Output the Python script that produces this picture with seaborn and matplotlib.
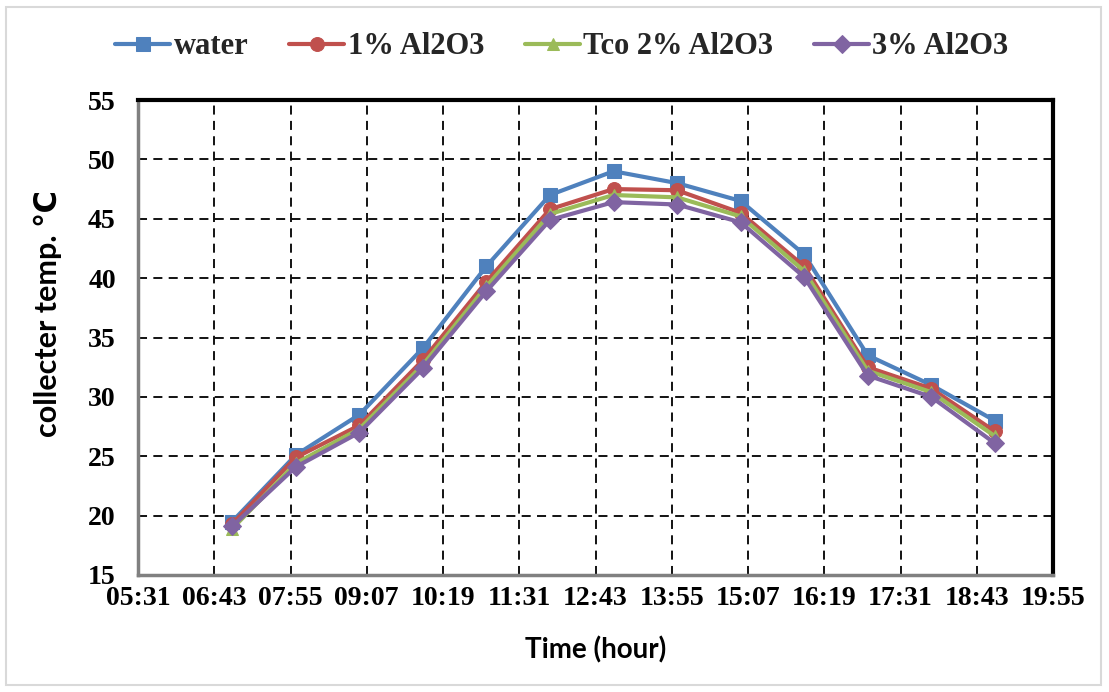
import matplotlib
matplotlib.use("Agg")
import matplotlib.pyplot as plt
import seaborn as sns
import pandas as pd
from matplotlib.ticker import FixedLocator
from matplotlib.patches import Rectangle

sns.set_theme(style="white")

# ---- data ----
times = ["07:00", "08:00", "09:00", "10:00", "11:00", "12:00", "13:00",
         "14:00", "15:00", "16:00", "17:00", "18:00", "19:00"]
water = [19.5, 25.1, 28.5, 34.1, 41.0, 47.0, 49.0, 48.0, 46.5, 42.0, 33.5, 31.0, 28.0]
al1 = [19.3, 24.9, 27.6, 33.1, 39.7, 45.8, 47.5, 47.4, 45.5, 41.0, 32.5, 30.7, 27.1]
al2 = [18.9, 24.4, 27.3, 32.7, 39.3, 45.4, 47.0, 46.8, 45.2, 40.6, 32.2, 30.4, 26.7]
al3 = [19.1, 24.1, 27.0, 32.4, 38.9, 44.9, 46.4, 46.2, 44.7, 40.1, 31.8, 30.0, 26.1]
series_names = ["water", "1% Al2O3", "Tco 2% Al2O3", "3% Al2O3"]
tick_labels = ["05:31", "06:43", "07:55", "09:07", "10:19", "11:31", "12:43",
               "13:55", "15:07", "16:19", "17:31", "18:43", "19:55"]
yticks = [15, 20, 25, 30, 35, 40, 45, 50, 55]

def to_min(s):
    h, m = s.split(":")
    return int(h) * 60 + int(m)

x_min = [to_min(t) for t in times]
tick_pos = [to_min(t) for t in tick_labels]

df = pd.DataFrame({"time": x_min * 4,
                   "temp": water + al1 + al2 + al3,
                   "series": sum([[n] * len(times) for n in series_names], [])})

colors = ["#4F81BD", "#C0504D", "#9BBB59", "#8064A2"]
markers = ["s", "o", "^", "D"]
msizes = [10.5, 10, 9, 9]

fig = plt.figure(figsize=(11.09, 6.92), dpi=100)
ax = fig.add_axes([138/1109, 1 - 575/692, (1053-138)/1109, (575-100)/692])

for i, name in enumerate(series_names):
    sub = df[df.series == name]
    sns.lineplot(data=sub, x="time", y="temp", ax=ax, color=colors[i],
                 marker=markers[i], markersize=msizes[i], markeredgecolor=colors[i],
                 linewidth=3.0, label=name, zorder=3 + i)

ax.set_xlim(tick_pos[0], tick_pos[-1])
ax.set_ylim(15, 55)
ax.xaxis.set_major_locator(FixedLocator(tick_pos))
ax.set_xticklabels(tick_labels)
ax.set_yticks(yticks)

serif = ["Liberation Serif", "DejaVu Serif"]
for lab in ax.get_xticklabels() + ax.get_yticklabels():
    lab.set_fontfamily(serif)
    lab.set_fontweight("bold")
    lab.set_fontsize(20)
    lab.set_color("black")

ax.tick_params(axis="x", direction="in", length=6, width=1.5, color="black", pad=8)
ax.tick_params(axis="y", direction="in", length=6, width=1.5, color="black", pad=16)

ax.grid(True, which="major", color="black", linestyle=(0, (5, 3.5)), linewidth=1.3, zorder=1)
ax.set_axisbelow(True)

for side in ["top", "right"]:
    ax.spines[side].set_color("black")
    ax.spines[side].set_linewidth(3)
for side in ["left", "bottom"]:
    ax.spines[side].set_color("#808080")
    ax.spines[side].set_linewidth(2.5)

lab_font = ["Lato", "DejaVu Sans"]
ax.set_xlabel("Time (hour)", fontsize=20, fontweight="bold", family=lab_font, color="black")
ax.xaxis.set_label_coords(0.5, -0.13)
ax.set_ylabel("collecter temp. \u2103", fontsize=22, fontweight="bold", family=lab_font, color="black")
ax.yaxis.set_label_coords(-0.083, 0.55)

leg = ax.legend(loc="center", bbox_to_anchor=(562/1109, 1 - 47/692),
                bbox_transform=fig.transFigure, ncol=4, frameon=False,
                handlelength=1.8, handletextpad=0.1, columnspacing=1.35,
                prop={"family": serif, "weight": "bold", "size": 22})
for h in leg.legend_handles:
    h.set_linewidth(3.0)

fig.patches.append(Rectangle((6/1109, 7/692), (1101-6)/1109, (685-7)/692,
                             transform=fig.transFigure, fill=False,
                             edgecolor="#d9d9d9", linewidth=1.5))

fig.savefig("out.png", dpi=100, facecolor="white")
